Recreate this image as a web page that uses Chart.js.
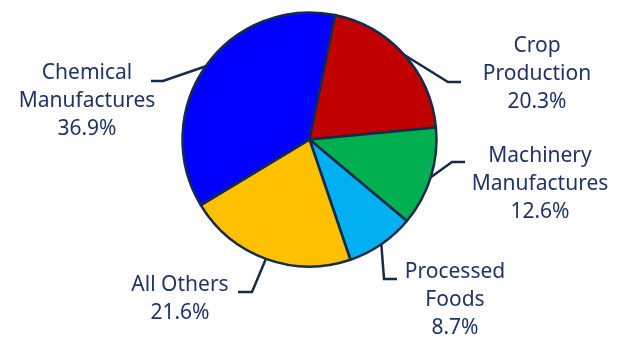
<!DOCTYPE html>
<html>
<head>
<meta charset="utf-8">
<script src="https://cdn.jsdelivr.net/npm/chart.js@4/dist/chart.umd.min.js"></script>
<style>
  html, body { margin: 0; padding: 0; background: #fff; }
  #wrap { width: 623px; height: 337px; }
</style>
</head>
<body>
<div id="wrap"><canvas id="pie"></canvas></div>
<script>
// data, clockwise from the red slice
const categories = ['Crop\nProduction', 'Machinery\nManufactures', 'Processed\nFoods', 'All Others', 'Chemical\nManufactures'];
const shares = [20.3, 12.6, 8.7, 21.6, 36.9];
const sliceColors = ['#C00000', '#00B050', '#00B0F0', '#FFC000', '#0000FF'];

const TEXT_COLOR = '#1F3464';
const LINE_COLOR = '#142B4A';

// leader line layout, offsets from pie centre: elbow, end, text centre x, first line y
const labelLayout = [
    { elbow: [138.5, -57.5], end: [151.5, -57.5], tx: 227.5, ty: -93.5 },
    { elbow: [142.5, 22.5], end: [155.5, 22.5], tx: 230.5, ty: 16.5 },
    { elbow: [74.5, 139.5], end: [87.5, 139.5], tx: 145.5, ty: 132.5 },
    { elbow: [-57.5, 152.5], end: [-71.5, 152.5], tx: -129.5, ty: 145.5 },
    { elbow: [-146.5, -58.5], end: [-158.5, -58.5], tx: -222.5, ty: -66.5 },
];

const pieLabels = {
    id: 'pieLabels',
    afterDatasetsDraw: (chart) => {
        const { ctx } = chart;
        const meta = chart.getDatasetMeta(0);
        ctx.save();
        ctx.font = '21px "Noto Sans"';
        ctx.fillStyle = TEXT_COLOR;
        ctx.strokeStyle = LINE_COLOR;
        ctx.lineWidth = 2.5;
        ctx.textAlign = 'center';
        ctx.textBaseline = 'middle';

        meta.data.forEach((arc, i) => {
            const { x, y, startAngle, endAngle, outerRadius } = arc.getProps(['x', 'y', 'startAngle', 'endAngle', 'outerRadius'], true);
            const mid = (startAngle + endAngle) / 2;
            const lay = labelLayout[i];

            ctx.beginPath();
            ctx.moveTo(x + Math.cos(mid) * outerRadius, y + Math.sin(mid) * outerRadius);
            ctx.lineTo(x + lay.elbow[0], y + lay.elbow[1]);
            ctx.lineTo(x + lay.end[0], y + lay.end[1]);
            ctx.stroke();

            const lines = categories[i].split('\n');
            lines.push(shares[i].toFixed(1) + '%');
            lines.forEach((line, k) => {
                ctx.fillText(line, x + lay.tx, y + lay.ty + k * 28);
            });
        });
        ctx.restore();
    },
};

new Chart(document.getElementById('pie'), {
    type: 'pie',
    data: {
        labels: categories,
        datasets: [{
            data: shares,
            backgroundColor: sliceColors,
            borderColor: LINE_COLOR,
            borderWidth: 2.5,
        }],
    },
    options: {
        responsive: true,
        maintainAspectRatio: false,
        animation: false,
        rotation: 11.6,
        radius: 127,
        layout: {
            padding: { left: 180, right: 184, top: 10, bottom: 68 },
        },
        plugins: {
            legend: { display: false },
            tooltip: { enabled: false },
        },
    },
    plugins: [pieLabels],
});
</script>
</body>
</html>
